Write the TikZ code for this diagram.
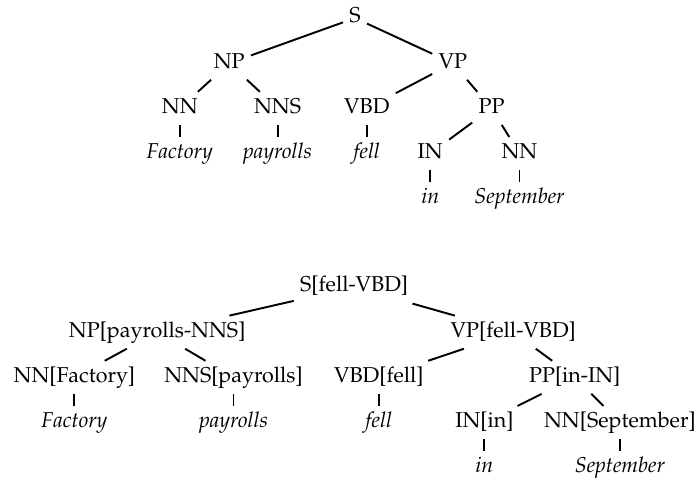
\documentclass[tikz,border=0pt]{standalone}
\usepackage[T1]{fontenc}
\usepackage{mathpazo}
\begin{document}
\begin{tikzpicture}[grow=down, level distance=21pt, sibling distance=0pt, line width=0.9pt] % два дерева разбора
\tikzstyle{cat} = [inner sep=2.5pt, text height=7pt, text depth=2.5pt] % category node style
\tikzstyle{word} = [cat, font=\itshape] % leaf (word) style
\useasboundingbox (0,0) rectangle (323.7pt,-224.2pt);

% plain parse tree
\node[cat] (s) at (165.1pt,-8.4pt) {S}
    child[xshift=-58.5pt] { node[cat] (np) {NP}
        child[xshift=-23pt] { node[cat] (nn) {NN}
            child { node[word] (factory) {Factory} } }
        child[xshift=22.5pt] { node[cat] (nns) {NNS}
            child { node[word] (payrolls) {payrolls} } } }
    child[xshift=45.5pt] { node[cat] (vp) {VP}
        child[xshift=-40pt] { node[cat] (vbd) {VBD}
            child { node[word] (fell) {fell} } }
        child[xshift=18pt] { node[cat] (pp) {PP}
            child[xshift=-28.5pt] { node[cat] (in) {IN}
                child { node[word] (inw) {in} } }
            child[xshift=13pt] { node[cat] (nnb) {NN}
                child { node[word] (sept) {September} } } } };

% same tree with head words
\node[cat] (hs) at (164.7pt,-133.5pt) {S[fell-VBD]}
    child[xshift=-91.6pt] { node[cat] (hnp) {NP[payrolls-NNS]}
        child[xshift=-38.5pt] { node[cat] (hnn) {NN[Factory]}
            child { node[word] (hfactory) {Factory} } }
        child[xshift=35.5pt] { node[cat] (hnns) {NNS[payrolls]}
            child { node[word] (hpayrolls) {payrolls} } } }
    child[xshift=74pt] { node[cat] (hvp) {VP[fell-VBD]}
        child[xshift=-62.5pt] { node[cat] (hvbd) {VBD[fell]}
            child { node[word] (hfell) {fell} } }
        child[xshift=28.6pt] { node[cat] (hpp) {PP[in-IN]}
            child[xshift=-42pt] { node[cat] (hin) {IN[in]}
                child { node[word] (hinw) {in} } }
            child[xshift=21pt] { node[cat] (hnnb) {NN[September]}
                child { node[word] (hsept) {September} } } } };
\end{tikzpicture}
\end{document}
